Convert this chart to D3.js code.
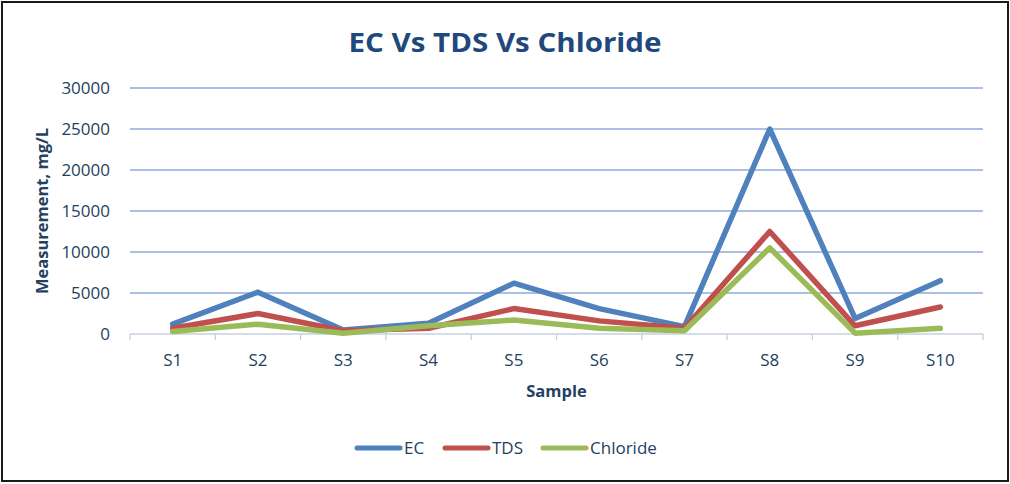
<!DOCTYPE html>
<html>
<head>
<meta charset="utf-8">
<script src="https://cdn.jsdelivr.net/npm/d3@7"></script>
<style>
  html, body { margin: 0; padding: 0; background: #fff; }
  svg { display: block; }
  text { font-family: "Open Sans", "Noto Sans", sans-serif; fill: #243f60; }
</style>
</head>
<body>
<div id="chart"></div>
<script>
// EC Vs TDS Vs Chloride — three line series over ten samples

const samples = ['S1', 'S2', 'S3', 'S4', 'S5', 'S6', 'S7', 'S8', 'S9', 'S10'];
const ecValues = [1200, 5100, 500, 1300, 6200, 3100, 900, 25000, 1900, 6500];
const tdsValues = [700, 2500, 400, 700, 3100, 1600, 700, 12500, 1000, 3300];
const chlorideValues = [300, 1200, 100, 1000, 1700, 700, 400, 10500, 100, 700];
const yTicks = [0, 5000, 10000, 15000, 20000, 25000, 30000];

const seriesList = [
    { name: 'EC', values: ecValues, color: '#4f81bd' },
    { name: 'TDS', values: tdsValues, color: '#c0504d' },
    { name: 'Chloride', values: chlorideValues, color: '#9bbb59' }
];

const W = 1010, H = 484;
const m = { top: 88, right: 27, bottom: 150, left: 130 };
const w = W - m.left - m.right;
const h = H - m.top - m.bottom;

const svg = d3.select('#chart').append('svg')
    .attr('width', W)
    .attr('height', H);

// outer frame
svg.append('rect')
    .attr('x', 2).attr('y', 2)
    .attr('width', W - 4).attr('height', H - 5)
    .attr('fill', '#fff')
    .attr('stroke', '#1a1a1a')
    .attr('stroke-width', 2);

svg.append('text')
    .attr('x', 505).attr('y', 52)
    .attr('text-anchor', 'middle')
    .attr('font-size', 27)
    .attr('font-weight', 'bold')
    .attr('textLength', 313)
    .attr('lengthAdjust', 'spacingAndGlyphs')
    .style('fill', '#1f497d')
    .text('EC Vs TDS Vs Chloride');

const g = svg.append('g').attr('transform', `translate(${m.left},${m.top})`);

const x = d3.scaleBand().domain(samples).range([0, w]);
const y = d3.scaleLinear().domain([0, 30000]).range([h, 0]);

// gridlines
g.selectAll('.grid')
    .data(yTicks.filter(d => d > 0))
    .enter().append('line')
    .attr('x1', 0).attr('x2', w)
    .attr('y1', d => y(d)).attr('y2', d => y(d))
    .attr('stroke', '#8eaadb')
    .attr('stroke-width', 1.3);

// y tick labels
g.selectAll('.ytick')
    .data(yTicks)
    .enter().append('text')
    .attr('x', -20)
    .attr('y', d => y(d))
    .attr('dy', '0.35em')
    .attr('text-anchor', 'end')
    .attr('font-size', 17)
    .text(d => d);

// x axis line + ticks at category boundaries
g.append('line')
    .attr('x1', 0).attr('x2', w)
    .attr('y1', h).attr('y2', h)
    .attr('stroke', '#c5d0e0')
    .attr('stroke-width', 1.3);

const bounds = samples.map(s => x(s)).concat([w]);
g.selectAll('.xtickmark')
    .data(bounds)
    .enter().append('line')
    .attr('x1', d => d).attr('x2', d => d)
    .attr('y1', h).attr('y2', h + 6)
    .attr('stroke', '#c5d0e0')
    .attr('stroke-width', 1.3);

g.selectAll('.xtick')
    .data(samples)
    .enter().append('text')
    .attr('x', d => x(d) + x.bandwidth() / 2)
    .attr('y', h + 32)
    .attr('text-anchor', 'middle')
    .attr('font-size', 17)
    .text(d => d);

// axis titles
g.append('text')
    .attr('x', w / 2)
    .attr('y', h + 63)
    .attr('text-anchor', 'middle')
    .attr('font-size', 16.5)
    .attr('font-weight', 'bold')
    .text('Sample');

g.append('text')
    .attr('transform', `translate(-82,${h / 2}) rotate(-90)`)
    .attr('text-anchor', 'middle')
    .attr('font-size', 16.5)
    .attr('font-weight', 'bold')
    .text('Measurement, mg/L');

// series lines
const line = d3.line()
    .x((d, i) => x(samples[i]) + x.bandwidth() / 2)
    .y(d => y(d));

g.selectAll('.series')
    .data(seriesList)
    .enter().append('path')
    .attr('d', d => line(d.values))
    .attr('fill', 'none')
    .attr('stroke', d => d.color)
    .attr('stroke-width', 5.5)
    .attr('stroke-linejoin', 'round')
    .attr('stroke-linecap', 'round');

// legend
const legendX = [355, 443, 541];
const lg = svg.append('g').attr('transform', 'translate(0,448)');
seriesList.forEach((s, i) => {
    lg.append('line')
        .attr('x1', legendX[i] + 2).attr('x2', legendX[i] + 45)
        .attr('y1', 0).attr('y2', 0)
        .attr('stroke', s.color)
        .attr('stroke-width', 5)
        .attr('stroke-linecap', 'round');
    lg.append('text')
        .attr('x', legendX[i] + 49)
        .attr('y', 0)
        .attr('dy', '0.35em')
        .attr('font-size', 17)
        .text(s.name);
});
</script>
</body>
</html>
